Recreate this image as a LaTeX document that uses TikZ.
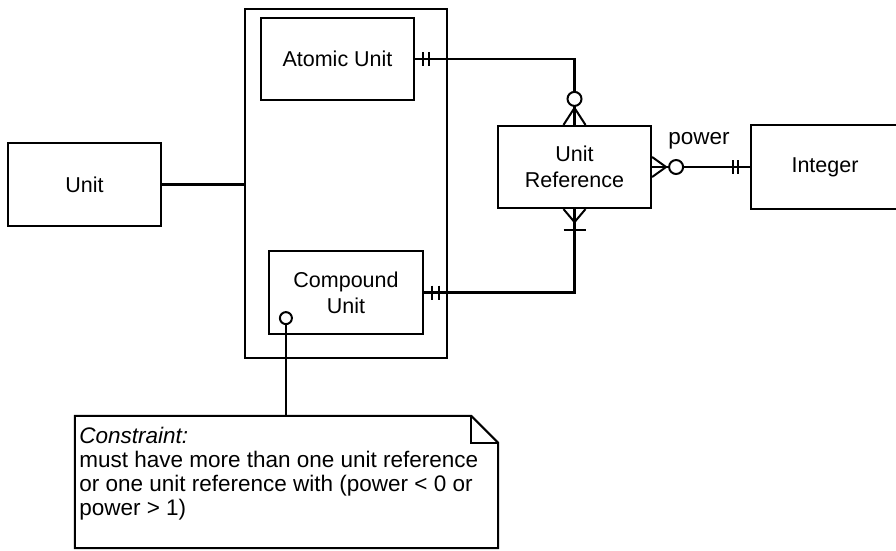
\documentclass[tikz,border=0pt]{standalone}
\usepackage{fontspec}
\setmainfont{Liberation Sans}
\usetikzlibrary{calc, positioning}
\definecolor{ink}{HTML}{000000}
\tikzset{
  ent/.style    = {draw=ink, line width=2.2pt, fill=white, align=center,
                   font=\fontsize{21.5}{26}\selectfont, text=ink},
  grp/.style    = {draw=ink, line width=2.2pt},
  rel/.style    = {draw=ink, line width=2.2pt},
  sym/.style    = {draw=ink, line width=2pt},
  ring/.style   = {circle, draw=ink, line width=2pt, fill=white,
                   inner sep=0pt, minimum size=14pt},
  notebox/.style= {draw=ink, line width=2pt},
  labl/.style   = {font=\fontsize{22.5}{24}\selectfont, text=ink},
}

\begin{document}
\begin{tikzpicture}[x=1pt, y=-1pt]
  \useasboundingbox (0,0) rectangle (896,550);

  \node[grp, minimum width=202, minimum height=349] (grp) at (346,183.5) {};

  \node[ent, minimum width=153, minimum height=82] (atomic) at (337.5,59) {Atomic Unit};
  \node[ent, minimum width=154, minimum height=83] (comp)   at (346,292.5) {Compound\\Unit};
  \node[ent, minimum width=153, minimum height=83] (unit)   at (84.5,184.5) {Unit};
  \node[ent, minimum width=153, minimum height=82] (ref)    at (574.5,167) {Unit\\Reference};
  \node[ent, minimum width=148, minimum height=84] (int)    at (825,167) {Integer};

  \node[minimum width=423, minimum height=132] (note) at (286.5,482) {};

  % connectors
  \draw[rel] (atomic.east) -| (ref.north);
  \draw[rel] (comp.east) -| (ref.south);
  \draw[rel] (ref.east) -- (int.west);
  \draw[rel] (unit.east) -- (unit.east -| grp.west);

  % exactly one
  \foreach \d in {8,14}
    \draw[sym] ($(atomic.east)+(\d,-7)$) -- ++(0,14);
  \foreach \d in {8,15}
    \draw[sym] ($(comp.east)+(\d,-7)$) -- ++(0,14);
  \foreach \d in {12,17}
    \draw[sym] ($(int.west)+(-\d,-7)$) -- ++(0,14);

  % zero or many
  \draw[sym] ($(ref.north)+(-11,0)$) -- ($(ref.north)+(0,-17)$) -- ($(ref.north)+(11,0)$);
  \node[ring] (r1) at ($(ref.north)+(0,-26)$) {};
  \draw[sym] ($(ref.east)+(0,-10)$) -- ($(ref.east)+(14,0)$) -- ($(ref.east)+(0,10)$);
  \node[ring] (r2) at ($(ref.east)+(24,0)$) {};

  % one or many
  \draw[sym] ($(ref.south)+(-11,0)$) -- ($(ref.south)+(0,13)$) -- ($(ref.south)+(11,0)$);
  \draw[sym] ($(ref.south)+(-11,21)$) -- ++(22,0);

  \node[labl] (pw) at ($(ref.east)+(47,-26)$) {power};

  % constraint note
  \node[ring, minimum size=12pt] (cc) at ($(comp.south west)+(18,-17)$) {};
  \draw[rel] (cc.south) -- (cc.south |- note.north);
  \draw[notebox] (note.north west) -- ($(note.north east)+(-27,0)$)
    -- ($(note.north east)+(0,27)$) -- (note.south east) -- (note.south west) -- cycle;
  \draw[notebox] ($(note.north east)+(-27,0)$) -- ($(note.north east)+(-27,27)$)
    -- ($(note.north east)+(0,27)$);
  \node[labl, anchor=north west, align=left] (notetxt) at ($(note.north west)+(1,8)$)
    {\textit{Constraint:}\\must have more than one unit reference\\
     or one unit reference with (power < 0 or\\power > 1)};

\end{tikzpicture}
\end{document}
